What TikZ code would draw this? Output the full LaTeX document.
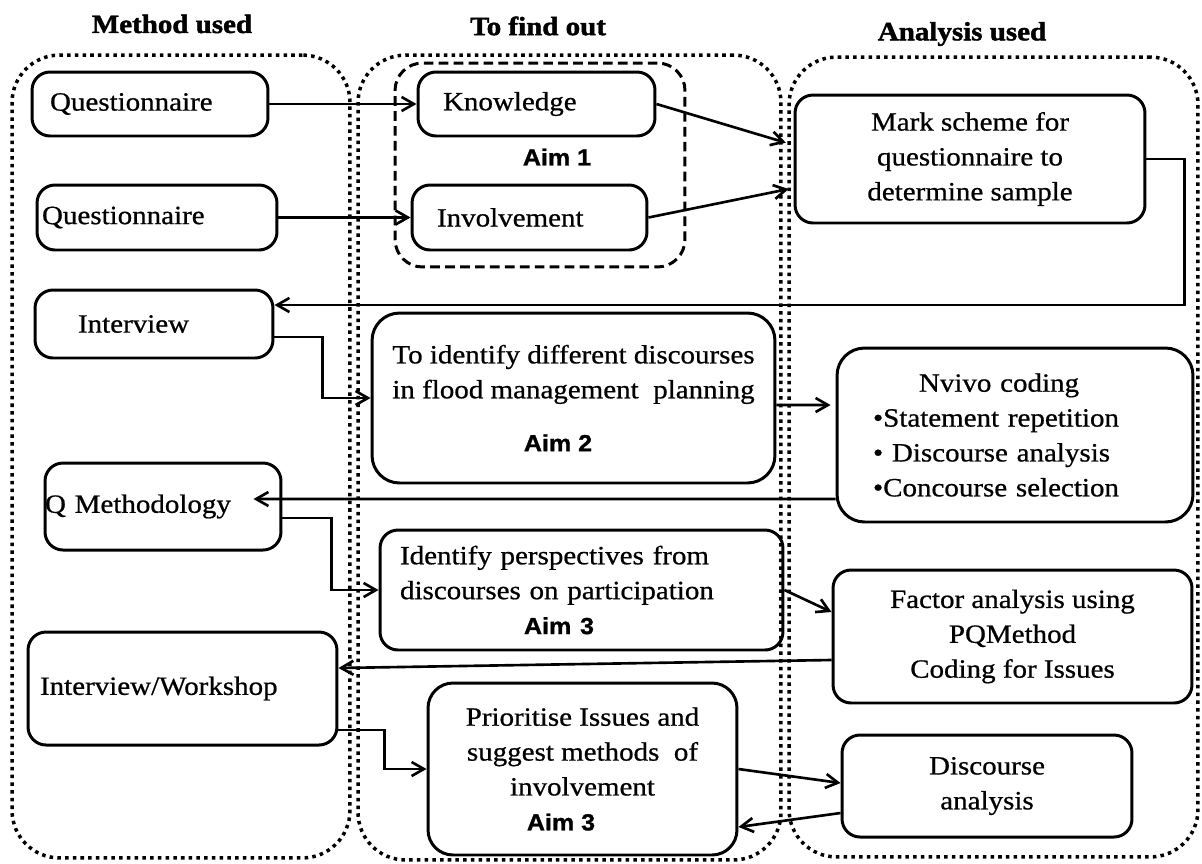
\documentclass[tikz,border=0pt]{standalone}
\usepackage{fontspec}
\setmainfont{Liberation Serif}[FakeStretch=1.1,FakeBold=0.7,BoldFeatures={FakeBold=1.6}]
\newfontfamily\aimfont{Liberation Sans}[FakeStretch=1.08,BoldFeatures={FakeBold=1.2}]
\usetikzlibrary{arrows.meta}
\newcommand\mainf{\fontsize{15pt}{19.85pt}\selectfont}
\newcommand\aimf{\aimfont\bfseries\fontsize{13.2pt}{19.85pt}\selectfont}
\tikzset{
  >={Straight Barb[length=7pt,width=8pt]},
  every node/.style={font=\mainf},
  box/.style={draw,line width=1.7pt,rounded corners=0.36cm,inner sep=0pt,align=center},
  lbox/.style={box,align=left},
  colbox/.style={draw,line width=2pt,dash pattern=on 2pt off 2.4pt,rounded corners=0.95cm},
  aimbox/.style={draw,line width=1.7pt,dash pattern=on 5.5pt off 3pt,rounded corners=0.55cm},
  heading/.style={font=\mainf\bfseries,inner sep=0pt},
  aim/.style={font=\aimf,inner sep=0pt},
  arr/.style={->,line width=1.5pt},
}
\begin{document}
\begin{tikzpicture}[x=0.02cm,y=-0.02cm]
  \path[use as bounding box,fill=white] (0,0) rectangle (1202,863);

  % columns
  \node[colbox,minimum width=6.76cm,minimum height=16.06cm] (methodcol) at (181,456.5) {};
  \node[colbox,minimum width=8.46cm,minimum height=16.1cm] (findcol) at (569.5,457.5) {};
  \node[colbox,minimum width=8.18cm,minimum height=16cm] (analysiscol) at (993.5,457) {};
  \node[heading] (methodhd) at (172,24) {Method used};
  \node[heading] (findhd) at (538,26) {To find out};
  \node[heading] (analysishd) at (962,34) {Analysis used};

  % method used
  \node[lbox,text width=4.0cm,inner xsep=0.36cm,minimum height=1.28cm] (q1) at (150,104) {Questionnaire};
  \node[lbox,text width=4.6cm,inner xsep=0.1cm,minimum height=1.3cm] (q2) at (157,217.5) {Questionnaire};
  \node[lbox,text width=3.04cm,inner xsep=0.86cm,minimum height=1.36cm] (intv) at (154,324) {Interview};
  \node[lbox,text width=4.72cm,inner xsep=0cm,minimum height=1.74cm] (qm) at (163,506.5) {Q Methodology};
  \node[lbox,text width=5.7cm,inner xsep=0.24cm,minimum height=2.26cm] (iw) at (182.5,688.5) {Interview/Workshop};

  % to find out
  \node[aimbox,minimum width=5.8cm,minimum height=4.08cm] (aimonebox) at (540,165) {};
  \node[lbox,text width=3.74cm,inner xsep=0.5cm,minimum height=1.28cm] (know) at (536.5,104) {Knowledge};
  \node[lbox,text width=3.7cm,inner xsep=0.5cm,minimum height=1.3cm] (invl) at (529.5,217.5) {Involvement};
  \node[aim] (aimone) at (557,157) {Aim 1};
  \node[box,minimum width=8.06cm,minimum height=3.4cm,rounded corners=0.55cm] (disc) at (573.5,398)
    {To identify different discourses\\in flood management\ \ planning\\[0.36cm]\hspace*{-0.62cm}{\aimf Aim 2}};
  \node[lbox,text width=7.26cm,inner xsep=0.4cm,minimum height=2.4cm] (pers) at (581.5,590)
    {Identify perspectives from\\discourses on participation\\\makebox[6.36cm]{\aimf Aim 3}};
  \node[box,minimum width=6.18cm,minimum height=3.44cm,rounded corners=0.5cm] (prio) at (582.5,769)
    {Prioritise Issues and\\suggest methods\ \ of\\involvement\\\hspace*{-0.86cm}{\aimf Aim 3}};

  % analysis used
  \node[box,minimum width=7cm,minimum height=2.56cm] (mark) at (970,159) {Mark scheme for\\questionnaire to\\determine sample};
  \node[lbox,text width=5.68cm,inner xsep=0.72cm,minimum height=3.48cm,rounded corners=0.55cm] (nv) at (1015,435)
    {\makebox[5.04cm]{Nvivo coding}\\\textbullet Statement repetition\\\textbullet{} Discourse analysis\\\textbullet Concourse selection};
  \node[box,minimum width=7.18cm,minimum height=2.66cm] (fac) at (1012.5,636.5) {Factor analysis using\\PQMethod\\ Coding for Issues};
  \node[box,minimum width=5.8cm,minimum height=2.04cm] (dsa) at (987,786) {Discourse\\analysis};

  % connectors
  \draw[arr] (q1) -- (know);
  \draw[arr] (q2) -- (invl);
  \draw[arr,shorten >=0.16cm] (know.east) -- ([yshift=0.28cm]mark.west);
  \draw[arr,shorten >=0.1cm] (invl.east) -- ([yshift=-0.58cm]mark.west);
  \draw[arr] (mark.east) -- ++(38,0) |- ([yshift=0.38cm]intv.east);
  \draw[arr] ([yshift=-0.26cm]intv.east) -- ++(48,0) |- (disc.west);
  \draw[arr,shorten >=0.1cm] ([yshift=-0.14cm]disc.east) -- ([yshift=0.6cm]nv.west);
  \draw[arr] ([yshift=-1.28cm]nv.west) -- ([xshift=-0.58cm,yshift=0.15cm]qm.east);
  \draw[arr] ([yshift=-0.23cm]qm.east) -- ++(49,0) |- (pers.west);
  \draw[arr] (pers.east) -- ([yshift=0.49cm]fac.west);
  \draw[arr] ([yshift=-0.47cm]fac.west) -- ([yshift=0.41cm]iw.east);
  \draw[arr] ([yshift=-0.83cm]iw.east) -- ++(46,0) |- (prio.west);
  \draw[arr] (prio.east) -- ([yshift=0.06cm]dsa.west);
  \draw[arr] ([yshift=-0.54cm]dsa.west) -- ([yshift=-1.16cm]prio.east);
\end{tikzpicture}
\end{document}
